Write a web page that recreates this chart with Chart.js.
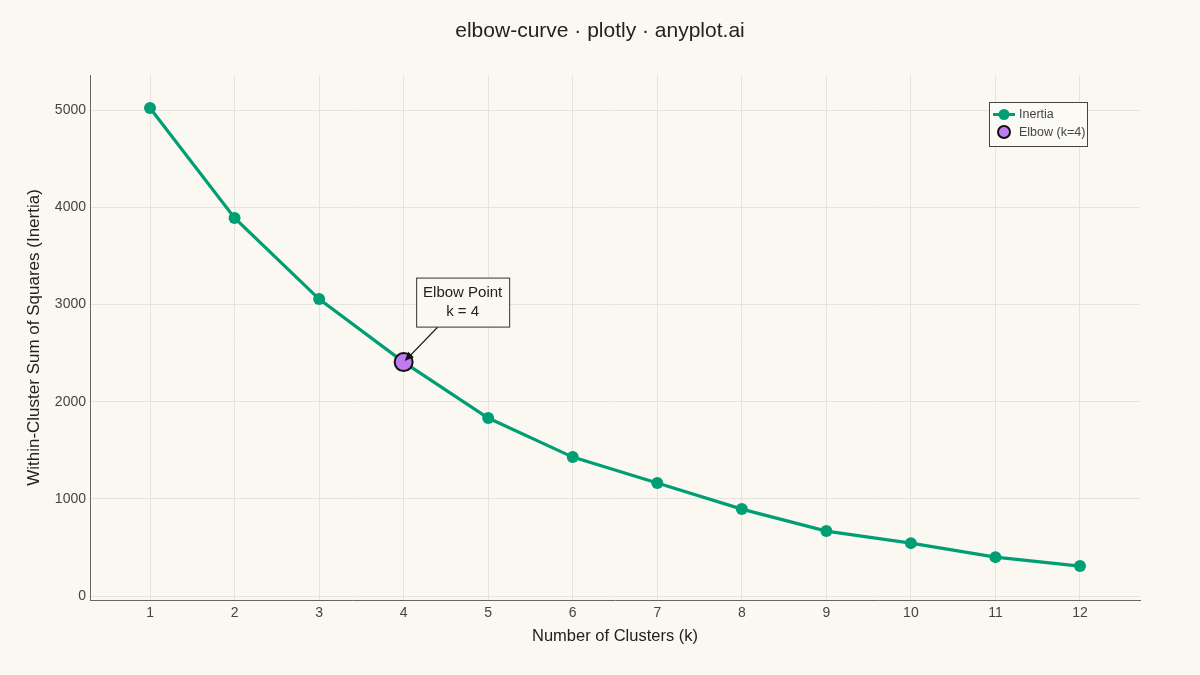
<!DOCTYPE html>
<html><head><meta charset="utf-8">
<script src="https://cdn.jsdelivr.net/npm/chart.js@4"></script>
<style>html,body{margin:0;padding:0;background:#FAF8F1;}#c{display:block;}</style>
</head><body>
<div style="width:1200px;height:675px;"><canvas id="c" width="1200" height="675"></canvas></div>
<script>
const kValues = [1,2,3,4,5,6,7,8,9,10,11,12];
const inertia = [5020,3890,3055,2407,1832,1430,1163,895,669,545,401,309];
const elbowK = 4;
const xTicks = [1,2,3,4,5,6,7,8,9,10,11,12];
const yTicks = [0,1000,2000,3000,4000,5000];
const chartTitle = 'elbow-curve · plotly · anyplot.ai';

const GREEN = '#009E73', PURPLE = '#C17BF2';
const FONT = '"Liberation Sans", Arial, sans-serif';

const bgPlugin = {
  id:'bg',
  beforeDraw(chart){const c=chart.ctx;c.save();c.fillStyle='#FAF8F1';c.fillRect(0,0,chart.width,chart.height);c.restore();}
};
const overlay = {
  id:'overlay',
  afterDraw(chart){
    const c=chart.ctx, xs=chart.scales.x, ys=chart.scales.y;
    const px=xs.getPixelForValue(elbowK), py=ys.getPixelForValue(inertia[kValues.indexOf(elbowK)]);
    c.save();
    // title
    c.fillStyle='#222'; c.font='21px '+FONT; c.textAlign='center'; c.textBaseline='middle';
    c.fillText(chartTitle,600,31);
    // annotation
    const bx=px+59, by=py-60, bw=93, bh=49;
    const tx=px+34, ty=py-35, hx=px+1, hy=py-1;
    c.strokeStyle='#111'; c.lineWidth=1.3;
    c.beginPath(); c.moveTo(tx,ty); c.lineTo(hx+5,hy-5); c.stroke();
    const ang=Math.atan2(hy-ty,hx-tx);
    c.fillStyle='#111'; c.beginPath();
    c.moveTo(hx,hy);
    c.lineTo(hx-10*Math.cos(ang-0.4),hy-10*Math.sin(ang-0.4));
    c.lineTo(hx-10*Math.cos(ang+0.4),hy-10*Math.sin(ang+0.4));
    c.closePath(); c.fill();
    c.fillStyle='#FAF8F1'; c.strokeStyle='#333'; c.lineWidth=1;
    c.fillRect(bx-bw/2,by-bh/2,bw,bh); c.strokeRect(bx-bw/2+0.5,by-bh/2+0.5,bw,bh);
    c.fillStyle='#222'; c.font='15px '+FONT; c.textAlign='center'; c.textBaseline='middle';
    c.fillText('Elbow Point',bx,by-9); c.fillText('k = 4',bx,by+10);
    // legend
    const lx=989.5, ly=102.5, lw=98, lh=44;
    c.fillStyle='#FBFAF5'; c.fillRect(lx,ly,lw,lh);
    c.strokeStyle='#444'; c.lineWidth=1; c.strokeRect(lx,ly,lw,lh);
    const ds=chart.data.datasets;
    c.strokeStyle=GREEN; c.lineWidth=3; c.beginPath(); c.moveTo(993,114.5); c.lineTo(1015,114.5); c.stroke();
    c.fillStyle=GREEN; c.beginPath(); c.arc(1004,114.5,5.5,0,Math.PI*2); c.fill();
    c.fillStyle=PURPLE; c.strokeStyle='#111'; c.lineWidth=2; c.beginPath(); c.arc(1004,132,6,0,Math.PI*2); c.fill(); c.stroke();
    c.fillStyle='#444'; c.font='12.5px '+FONT; c.textAlign='left'; c.textBaseline='middle';
    c.fillText(ds[0].label,1019,115); c.fillText(ds[1].label,1019,133);
    c.restore();
  }
};

new Chart(document.getElementById('c'),{
  type:'line',
  data:{datasets:[
    {label:'Inertia',data:kValues.map((k,i)=>({x:k,y:inertia[i]})),borderColor:GREEN,backgroundColor:GREEN,
     borderWidth:3.2,pointRadius:6,pointBackgroundColor:GREEN,pointBorderWidth:0,tension:0,order:1},
    {label:'Elbow (k=4)',data:[{x:elbowK,y:inertia[kValues.indexOf(elbowK)]}],showLine:false,
     pointRadius:9,pointBackgroundColor:PURPLE,pointBorderColor:'#111',pointBorderWidth:2,order:0}
  ]},
  options:{
    responsive:false,animation:false,devicePixelRatio:1,
    layout:{padding:{top:75,right:60,left:0,bottom:0}},
    plugins:{legend:{display:false},tooltip:{enabled:false},title:{display:false}},
    scales:{
      x:{type:'linear',min:0.29,max:12.71,
        afterBuildTicks(s){s.ticks=xTicks.map(v=>({value:v}));},
        afterFit(s){s.height=75;},
        grid:{color:'#E5E3DC',drawTicks:false,lineWidth:1},
        border:{display:true,color:'#666',width:1},
        ticks:{color:'#444',font:{family:FONT,size:14},padding:5,maxRotation:0,callback:v=>String(v)},
        title:{display:true,text:'Number of Clusters (k)',color:'#222',font:{family:FONT,size:16.5},padding:{top:0,bottom:29}}
      },
      y:{type:'linear',min:-40,max:5360,
        afterBuildTicks(s){s.ticks=yTicks.map(v=>({value:v}));},
        afterFit(s){s.width=90;},
        grid:{color:'#E5E3DC',drawTicks:false,lineWidth:1},
        border:{display:true,color:'#666',width:1},
        ticks:{color:'#444',font:{family:FONT,size:14},padding:4,callback:v=>String(v)},
        title:{display:true,text:'Within-Cluster Sum of Squares (Inertia)',color:'#222',font:{family:FONT,size:17},padding:{top:24,bottom:0}}
      }
    }
  },
  plugins:[bgPlugin,overlay]
});
</script>
</body></html>
